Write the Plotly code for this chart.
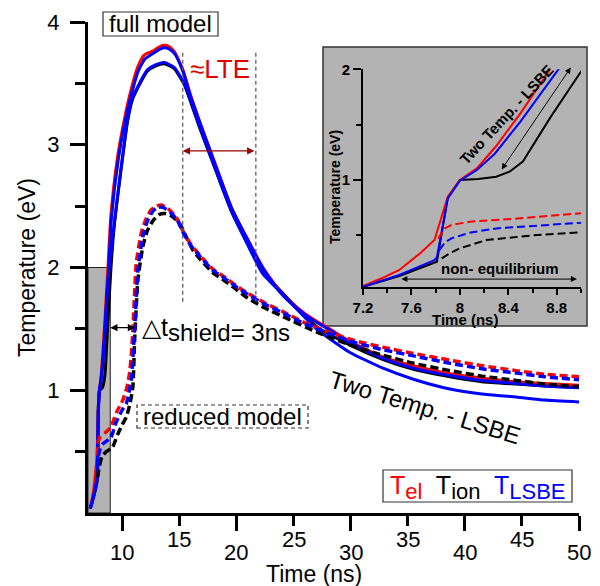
import plotly.graph_objects as go

FONT = "Liberation Sans, Arial, sans-serif"

# ---------------- data (time in ns, temperature in eV) ----------------
# full model, T_el (red solid)
t_el_full = [7.2, 7.35, 7.5, 7.67, 7.79, 7.9, 8.0, 8.14, 8.3, 8.5, 8.63, 8.76, 9.0, 9.59, 10.17,
             10.75, 11.34, 11.92, 12.8, 13.3, 13.68, 14.1, 14.55, 15.28, 16.0, 16.77, 18.24, 19.55,
             20.86, 22.32, 23.78, 25.25, 26.7, 28.16, 29.9, 32.84, 35.5, 38.7, 41.5, 44.5, 47.0, 50.0]
T_el_full = [0.042, 0.11, 0.187, 0.337, 0.458, 0.849, 1.0, 1.105, 1.307, 1.602, 1.813, 2.024, 2.42, 2.90, 3.20,
             3.44, 3.63, 3.73, 3.77, 3.80, 3.81, 3.80, 3.76, 3.62, 3.40, 3.19, 2.82, 2.49,
             2.25, 2.00, 1.81, 1.68, 1.58, 1.50, 1.40, 1.27, 1.20, 1.135, 1.10, 1.07, 1.055, 1.04]

# full model, T_ion (black solid)
t_ion_full = [7.2, 7.5, 7.81, 7.9, 8.0, 8.15, 8.3, 8.41, 8.52, 8.75, 9.0, 9.3, 9.87, 10.46, 10.9, 11.34,
              12.2, 12.9, 13.68, 14.55, 15.43, 16.1, 16.77, 18.24, 19.6, 20.9, 22.3, 24.07, 27.0,
              29.9, 32.84, 35.5, 38.7, 41.5, 44.5, 47.0, 50.0]
T_ion_full = [0.036, 0.133, 0.262, 0.84, 1.0, 1.01, 1.03, 1.075, 1.166, 1.57, 1.98, 2.34, 2.78, 3.19, 3.37, 3.46,
              3.60, 3.64, 3.66, 3.62, 3.49, 3.32, 3.14, 2.78, 2.45, 2.21, 1.97, 1.79, 1.52,
              1.37, 1.25, 1.17, 1.11, 1.07, 1.05, 1.035, 1.025]

# full model, T_LSBE (blue solid)
t_lsbe_full = [7.2, 7.5, 7.79, 7.81, 7.9, 8.0, 8.14, 8.29, 8.5, 8.66, 8.82, 9.05, 9.65, 10.2, 10.8,
               11.4, 12.0, 12.8, 13.3, 13.7, 14.1, 14.6, 15.3, 16.0, 16.8, 18.24, 19.6, 20.9, 22.35,
               23.8, 25.25, 26.7, 28.2, 29.9, 32.84, 35.5, 38.7, 41.5, 44.5, 47.0, 50.0]
T_lsbe_full = [0.036, 0.142, 0.277, 0.30, 0.834, 0.994, 1.09, 1.24, 1.527, 1.768, 2.009, 2.40, 2.88, 3.17, 3.41,
               3.60, 3.70, 3.75, 3.78, 3.79, 3.78, 3.74, 3.60, 3.39, 3.18, 2.81, 2.48, 2.24, 1.99,
               1.80, 1.67, 1.57, 1.49, 1.39, 1.26, 1.18, 1.12, 1.08, 1.055, 1.035, 1.02]

# two temperature - LSBE model (blue solid, lower)
t_lsbe_2T = [7.2, 7.5, 7.79, 7.82, 7.91, 8.0, 8.14, 8.3, 8.5, 8.71, 9.3, 9.87, 10.46, 10.9, 11.34,
             12.2, 12.9, 13.68, 14.55, 15.43, 16.1, 16.77, 18.24, 19.6, 20.9, 22.3, 24.07, 27.0,
             29.9, 32.84, 35.5, 38.7, 41.5, 44.5, 47.0, 50.0]
T_lsbe_2T = [0.036, 0.14, 0.275, 0.30, 0.83, 0.99, 1.08, 1.22, 1.50, 1.85, 2.36, 2.79, 3.20, 3.38, 3.47,
             3.61, 3.65, 3.67, 3.63, 3.50, 3.33, 3.15, 2.78, 2.45, 2.20, 1.95, 1.78, 1.50,
             1.31, 1.18, 1.09, 1.01, 0.97, 0.945, 0.92, 0.905]

# reduced model (dashed)
t_el_red = [7.82, 7.87, 7.93, 8.08, 8.5, 9.0, 9.5, 10.05, 10.4, 10.64, 10.8, 10.93, 11.22, 11.66, 12.1,
            12.54, 13.0, 13.42, 14.0, 14.73, 15.3, 16.0, 16.8, 17.9, 19.0, 20.0, 21.0, 22.5, 24.07,
            26.0, 28.45, 30.5, 32.84, 35.5, 38.7, 41.5, 44.5, 47.0, 50.0]
T_el_red = [0.47, 0.56, 0.593, 0.623, 0.654, 0.70, 0.82, 0.92, 1.02, 1.14, 1.30, 1.49, 2.03, 2.28, 2.40,
            2.47, 2.50, 2.51, 2.48, 2.41, 2.30, 2.19, 2.10, 1.99, 1.92, 1.85, 1.79, 1.71, 1.64,
            1.55, 1.46, 1.40, 1.35, 1.30, 1.245, 1.20, 1.16, 1.13, 1.11]

t_lsbe_red = [7.83, 7.88, 7.93, 8.08, 8.3, 9.0, 9.47, 10.0, 10.35, 10.78, 11.08, 11.37, 11.8, 12.2, 12.68,
              13.1, 13.56, 14.2, 14.8, 15.3, 16.0, 16.8, 17.9, 19.0, 20.0, 21.0, 22.5, 24.07, 26.0,
              28.45, 30.5, 32.84, 35.5, 38.7, 41.5, 44.5, 47.0, 50.0]
T_lsbe_red = [0.367, 0.44, 0.473, 0.524, 0.563, 0.614, 0.74, 0.84, 0.89, 1.08, 1.49, 1.98, 2.25, 2.38, 2.46,
              2.49, 2.49, 2.45, 2.39, 2.29, 2.18, 2.09, 1.98, 1.91, 1.84, 1.78, 1.70, 1.63, 1.54,
              1.45, 1.385, 1.33, 1.28, 1.22, 1.175, 1.14, 1.11, 1.085]

t_ion_red = [7.85, 7.92, 8.0, 8.22, 8.6, 9.0, 9.17, 9.6, 10.0, 10.35, 10.7, 10.93, 11.08, 11.37, 11.8,
             12.2, 12.68, 13.2, 13.7, 14.3, 15.02, 15.6, 16.2, 16.8, 17.9, 19.0, 20.0, 21.0, 22.5,
             24.07, 27.0, 29.9, 32.84, 35.5, 38.7, 41.5, 44.5, 47.0, 50.0]
T_ion_red = [0.292, 0.34, 0.383, 0.458, 0.50, 0.524, 0.54, 0.64, 0.72, 0.78, 0.90, 1.03, 1.40, 1.90, 2.17,
             2.30, 2.38, 2.43, 2.44, 2.42, 2.36, 2.25, 2.14, 2.07, 1.96, 1.89, 1.82, 1.75, 1.67,
             1.60, 1.475, 1.37, 1.285, 1.22, 1.16, 1.115, 1.08, 1.05, 1.03]

# tick labels
main_x_major = [10, 20, 30, 40, 50]
main_x_minor = [15, 25, 35, 45]
main_y_major = [1, 2, 3, 4]
main_y_minor = [0.5, 1.5, 2.5, 3.5]
inset_x_major = [7.2, 7.6, 8.0, 8.4, 8.8]
inset_x_labels = ["7.2", "7.6", "8", "8.4", "8.8"]
inset_x_minor = [7.4, 7.8, 8.2, 8.6, 9.0]
inset_y_major = [1, 2]
inset_y_minor = [0.5, 1.5]

# annotation positions (data)
lte_bounds = [15.3, 21.7]
shield_bounds = [8.95, 11.25]
laser_window = [7.0, 8.95, 2.0]

RED = "#ff0000"
BLUE = "#0000ff"
BLACK = "#000000"

# ---------------- pixel helpers for paper placement ----------------
# the page body adds an 8 px offset, so the figure is 8 px smaller than the window
OFF = 8
W, H = 600 - OFF, 586 - OFF
L, R, T, B = 88 - OFF, 5, 22 - OFF, 73
PW, PH = W - L - R, H - T - B


def fx(px):  # px in window pixels
    return (px - OFF - L) / PW


def fy(py):
    return (H - B - (py - OFF)) / PH


def txt(px, py, text, size, color="black", angle=0, xanchor="center"):
    return dict(x=fx(px), y=fy(py), xref="paper", yref="paper", text=text, showarrow=False,
                xanchor=xanchor, yanchor="middle", textangle=angle,
                font=dict(size=size, color=color, family=FONT))


fig = go.Figure()

solid = [(t_ion_full, T_ion_full, BLACK), (t_el_full, T_el_full, RED),
         (t_lsbe_full, T_lsbe_full, BLUE), (t_lsbe_2T, T_lsbe_2T, BLUE)]
dashed = [(t_ion_red, T_ion_red, BLACK), (t_el_red, T_el_red, RED), (t_lsbe_red, T_lsbe_red, BLUE)]

for x, y, c in solid:
    fig.add_trace(go.Scatter(x=x, y=y, mode="lines", line=dict(color=c, width=3, shape="spline", smoothing=0.5),
                             xaxis="x", yaxis="y", showlegend=False, hoverinfo="skip"))
for x, y, c in dashed:
    fig.add_trace(go.Scatter(x=x, y=y, mode="lines",
                             line=dict(color=c, width=3.5, dash="8px,4px", shape="spline", smoothing=0.5),
                             xaxis="x", yaxis="y", showlegend=False, hoverinfo="skip"))

# inset traces
for x, y, c in [(t_ion_full, T_ion_full, BLACK), (t_el_full, T_el_full, RED), (t_lsbe_full, T_lsbe_full, BLUE)]:
    fig.add_trace(go.Scatter(x=x, y=y, mode="lines", line=dict(color=c, width=2),
                             xaxis="x2", yaxis="y2", showlegend=False, hoverinfo="skip"))
for x, y, c in dashed:
    fig.add_trace(go.Scatter(x=x, y=y, mode="lines", line=dict(color=c, width=2, dash="8px,4px"),
                             xaxis="x2", yaxis="y2", showlegend=False, hoverinfo="skip"))

shapes = []
# inset gray background
shapes.append(dict(type="rect", xref="paper", yref="paper", x0=fx(323), x1=fx(587), y0=fy(326), y1=fy(47),
                   fillcolor="#b3b3b3", line=dict(color="#333333", width=1.5), layer="below"))
# laser window grey rect
shapes.append(dict(type="rect", xref="x", yref="y", x0=laser_window[0], x1=laser_window[1], y0=0, y1=laser_window[2],
                   fillcolor="#b3b3b3", line=dict(color="#222222", width=1), layer="below"))
# LTE dashed lines
for xv in lte_bounds:
    shapes.append(dict(type="line", xref="x", yref="y", x0=xv, x1=xv, y0=1.72, y1=3.76,
                       line=dict(color="#555555", width=1.2, dash="4px,3px")))
# full model box
shapes.append(dict(type="rect", xref="paper", yref="paper", x0=fx(103), x1=fx(218), y0=fy(36), y1=fy(12),
                   line=dict(color="#333333", width=1.2), fillcolor="rgba(0,0,0,0)"))
# reduced model dashed box
shapes.append(dict(type="rect", xref="paper", yref="paper", x0=fx(137), x1=fx(308), y0=fy(428), y1=fy(405),
                   line=dict(color="#333333", width=1.2, dash="4px,3px"), fillcolor="rgba(0,0,0,0)"))
# legend box
shapes.append(dict(type="rect", xref="paper", yref="paper", x0=fx(383), x1=fx(572), y0=fy(502), y1=fy(470),
                   line=dict(color="#333333", width=1.2), fillcolor="rgba(0,0,0,0)"))

ann = []
# staggered x tick labels
for v in main_x_major:
    ann.append(dict(x=v, y=fy(552), xref="x", yref="paper", text=str(v), showarrow=False,
                    xanchor="center", yanchor="middle", font=dict(size=22, color="black", family=FONT)))
for v in main_x_minor:
    ann.append(dict(x=v, y=fy(539), xref="x", yref="paper", text=str(v), showarrow=False,
                    xanchor="center", yanchor="middle", font=dict(size=22, color="black", family=FONT)))
# axis titles
ann.append(txt(314, 574, "Time (ns)", 23))
ann.append(txt(27, 268, "Temperature (eV)", 23, angle=-90))
# text labels
ann.append(txt(160, 24, "full model", 24))
ann.append(txt(222, 416, "reduced model", 24))
ann.append(txt(220, 69, "\u2248LTE", 26, color="#dd0000"))
ann.append(txt(140, 329, "\u25b3t<sub><span style='font-size:24px'>shield= 3ns</span></sub>", 25, xanchor="left"))
ann.append(txt(425, 407, "Two Temp. - LSBE", 24, angle=17))
ann.append(txt(477, 487,
               "<span style='color:#ff0000'>T<sub><span style='font-size:22px'>el</span></sub></span>  "
               "T<sub><span style='font-size:22px'>ion</span></sub>  "
               "<span style='color:#0000ff'>T<sub><span style='font-size:22px'>LSBE</span></sub></span>", 25))
# arrows
ann.append(dict(x=lte_bounds[0], y=2.95, ax=lte_bounds[1], ay=2.95, xref="x", yref="y", axref="x", ayref="y",
                text="", showarrow=True, arrowhead=2, arrowside="end+start", arrowsize=1.2, arrowwidth=1.2,
                arrowcolor="#990000"))
ann.append(dict(x=shield_bounds[0], y=1.51, ax=shield_bounds[1], ay=1.51, xref="x", yref="y", axref="x", ayref="y",
                text="", showarrow=True, arrowhead=2, arrowside="end+start", arrowsize=1.2, arrowwidth=1.2,
                arrowcolor="black"))
# inset labels
ann.append(txt(335, 187, "<b>Temperature (eV)</b>", 14, angle=-90))
ann.append(txt(465, 319, "<b>Time (ns)</b>", 15))
ann.append(dict(x=8.385, y=1.59, xref="x2", yref="y2", text="<b>Two Temp. - LSBE</b>", showarrow=False,
                xanchor="center", yanchor="middle", textangle=-47, font=dict(size=15, color="black", family=FONT)))
ann.append(dict(x=8.33, y=0.20, xref="x2", yref="y2", text="<b>non- equilibrium</b>", showarrow=False,
                xanchor="center", yanchor="middle", font=dict(size=15, color="black", family=FONT)))
ann.append(dict(x=8.345, y=1.096, ax=8.924, ay=2.03, xref="x2", yref="y2", axref="x2", ayref="y2",
                text="", showarrow=True, arrowhead=2, arrowside="end+start", arrowsize=1.2, arrowwidth=1,
                arrowcolor="black"))
ann.append(dict(x=7.517, y=0.105, ax=8.979, ay=0.105, xref="x2", yref="y2", axref="x2", ayref="y2",
                text="", showarrow=True, arrowhead=2, arrowside="end+start", arrowsize=1.2, arrowwidth=1,
                arrowcolor="black"))

fig.update_layout(
    template="none",
    width=W, height=H,
    margin=dict(l=L, r=R, t=T, b=B, autoexpand=False),
    paper_bgcolor="white", plot_bgcolor="rgba(0,0,0,0)",
    font=dict(family=FONT, color="black"),
    shapes=shapes, annotations=ann, showlegend=False,
    xaxis=dict(domain=[0, 491 / PW], range=[7, 50], showline=True, linewidth=3, linecolor="black",
               ticks="outside", ticklen=15, tickwidth=3, tickcolor="black", tickvals=main_x_major,
               showticklabels=False, showgrid=False, zeroline=False, automargin=False,
               minor=dict(tickvals=main_x_minor, ticks="outside", ticklen=10, tickwidth=2.5, tickcolor="black")),
    yaxis=dict(domain=[0, 1], range=[0, 4], showline=True, linewidth=3, linecolor="black",
               ticks="outside", ticklen=15, tickwidth=3, tickcolor="black", tickvals=main_y_major,
               tickfont=dict(size=22, family=FONT), ticklabelstandoff=6, showgrid=False, zeroline=False,
               automargin=False,
               minor=dict(tickvals=main_y_minor, ticks="outside", ticklen=10, tickwidth=2.5, tickcolor="black")),
    xaxis2=dict(domain=[fx(363), fx(581)], range=[7.2, 9.0], anchor="y2", showline=True, linewidth=2,
                linecolor="black", ticks="outside", ticklen=6, tickwidth=2, tickcolor="black",
                tickvals=inset_x_major, ticktext=inset_x_labels, showgrid=False, zeroline=False,
                tickfont=dict(size=15, family=FONT, weight="bold"), automargin=False,
                minor=dict(tickvals=inset_x_minor, ticks="outside", ticklen=4, tickwidth=1.5, tickcolor="black")),
    yaxis2=dict(domain=[fy(287.4), fy(69.3)], range=[0.03, 2.0], anchor="x2", showline=True, linewidth=2,
                linecolor="black", ticks="outside", ticklen=8, tickwidth=2, tickcolor="black",
                tickvals=inset_y_major, showgrid=False, zeroline=False,
                tickfont=dict(size=15, family=FONT, weight="bold"), automargin=False,
                minor=dict(tickvals=inset_y_minor, ticks="outside", ticklen=5, tickwidth=1.5, tickcolor="black")),
)

fig.write_html("out.html")
